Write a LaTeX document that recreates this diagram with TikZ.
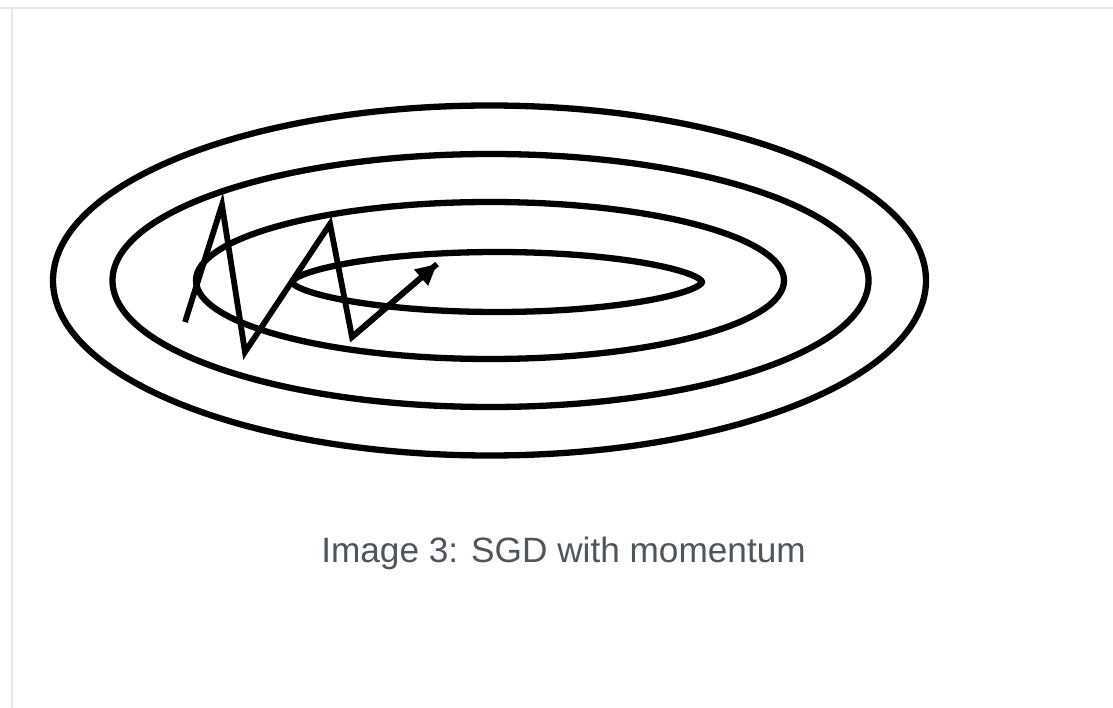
\documentclass[tikz,border=0pt]{standalone}
\usepackage{fontspec}
\setmainfont{Liberation Sans}
\usetikzlibrary{arrows.meta}
\definecolor{frame}{RGB}{227,233,240}
\definecolor{captiongray}{RGB}{78,85,92}
\tikzset{
  contour/.style={draw=black, line width=6.3pt},
  zig/.style={draw=black, line width=5.8pt, line join=miter, line cap=butt},
  framerule/.style={draw=frame, line width=2pt},
  caption/.style={text=captiongray, font=\fontsize{35.2}{40}\selectfont, inner sep=0pt}
}
\begin{document}
\begin{tikzpicture}[x=1pt, y=-1pt]
\useasboundingbox (0,0) rectangle (1113,708);
\fill[white] (0,0) rectangle (1113,708);
% page frame
\coordinate (ftl) at (0,8);
\coordinate (ftr) at (1113,8);
\coordinate (fl1) at (12,8);
\coordinate (fl2) at (12,708);
\draw[framerule] (ftl) -- (ftr);
\draw[framerule] (fl1) -- (fl2);
% contours
\draw[contour] (489.5,280.5) ellipse [x radius=436.5, y radius=175];
\draw[contour] (490.5,280.5) ellipse [x radius=378, y radius=126.5];
\draw[contour] (490,280.5) ellipse [x radius=294, y radius=78.5];
\draw[contour] plot[domain=0.5:360.5, samples=181, variable=\t]
  ({497+205*cos(\t)}, {282+30*sin(\t)*abs(sin(\t))^0.25}) -- cycle;
% momentum path
\coordinate (p0) at (185,322);
\coordinate (p1) at (222,205);
\coordinate (p2) at (245,352);
\coordinate (p3) at (330,224);
\coordinate (p4) at (352,337);
\coordinate (p5) at (437,264);
\draw[zig] (p0) -- (p1) -- (p2) -- (p3) -- (p4) -- (p5);
\draw[zig, -{Triangle[length=21pt, width=20pt]}] (p4) -- (p5);
% caption
\node[caption] (cap) at (563.5,553) {Image 3: SGD with momentum};
\end{tikzpicture}
\end{document}
